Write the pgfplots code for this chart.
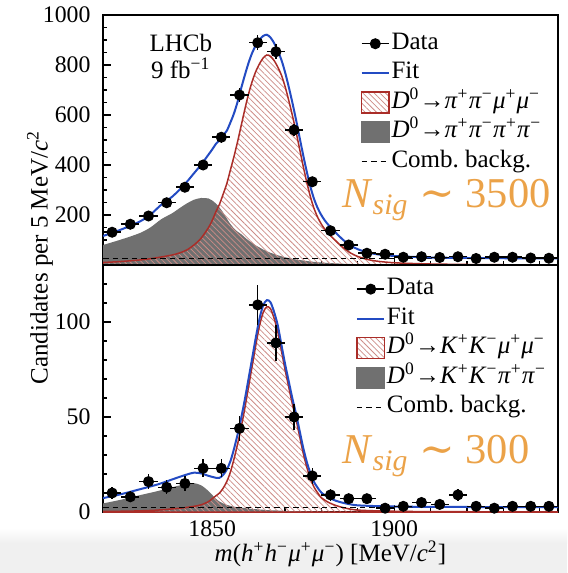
\documentclass[border=0pt]{standalone}
\usepackage{fontspec}
\setmainfont{Liberation Serif}
\newfontfamily\dejavu{DejaVu Serif}
\usepackage{pgfplots}
\usepackage{pgfplotstable}
\pgfplotsset{compat=1.18}
\usetikzlibrary{patterns.meta}

\definecolor{fitblue}{RGB}{35,75,195}
\definecolor{sigred}{RGB}{170,45,40}
\definecolor{hatchc}{RGB}{205,140,135}
\definecolor{greyc}{RGB}{112,112,112}
\definecolor{nsig}{RGB}{235,162,72}

\newcommand{\sut}[1]{\textsuperscript{#1}}
\newcommand{\ti}[1]{\textit{#1}}

\pgfplotstableread[row sep=\\]{
x ex y ey \\
1822.5 2.5 131 11.4 \\
1827.5 2.5 163 12.8 \\
1832.5 2.5 196 14.0 \\
1837.5 2.5 249 15.8 \\
1842.5 2.5 311 17.6 \\
1847.5 2.5 400 20.0 \\
1852.5 2.5 511 22.6 \\
1857.5 2.5 680 26.1 \\
1862.5 2.5 889 29.8 \\
1867.5 2.5 853 29.2 \\
1872.5 2.5 540 23.2 \\
1877.5 2.5 333 18.2 \\
1882.5 2.5 137 11.7 \\
1887.5 2.5 80 8.9 \\
1892.5 2.5 47 6.9 \\
1897.5 2.5 43 6.6 \\
1902.5 2.5 31 5.6 \\
1907.5 2.5 33 5.7 \\
1912.5 2.5 30 5.5 \\
1917.5 2.5 33 5.7 \\
1922.5 2.5 26 5.1 \\
1927.5 2.5 31 5.6 \\
1932.5 2.5 31 5.6 \\
1937.5 2.5 28 5.3 \\
1942.5 2.5 27 5.2 \\
}\topdata

\pgfplotstableread[row sep=\\]{
x S G F \\
1820 10 80 116 \\
1825 14 102 142 \\
1830 20 127 173 \\
1833 25 150 201 \\
1836 32 183 241 \\
1839 40 207 273 \\
1841 48 227 301 \\
1843 60 246 332 \\
1845 80 261 367 \\
1847 108 268 402 \\
1849 150 266 442 \\
1850 178 258 462 \\
1851 212 246 484 \\
1852 243 230 499 \\
1853 283 210 519 \\
1854 325 186 537 \\
1855 380 164 570 \\
1856 435 146 607 \\
1857 495 133 654 \\
1858 560 123 709 \\
1859 625 110 761 \\
1860 685 98 809 \\
1861 735 88 849 \\
1862 775 78 879 \\
1863 805 70 901 \\
1864 828 62 916 \\
1865 840 55 921 \\
1866 835 49 910 \\
1867 818 44 888 \\
1868 792 39 857 \\
1869 760 35 821 \\
1870 715 31 772 \\
1871 660 28 714 \\
1872 600 25 651 \\
1873 535 22 583 \\
1874 465 20 511 \\
1875 395 18 439 \\
1876 330 16 372 \\
1877 272 14 312 \\
1878 225 12.5 263.5 \\
1879 190 11 227 \\
1880 163 10 199 \\
1881 142 9 177 \\
1882 125 8 159 \\
1883 110 7.2 143.2 \\
1884 96 6.5 128.5 \\
1885 82 5.8 113.8 \\
1886 69 5 100 \\
1887 58 4.5 88.5 \\
1888 48 4 78 \\
1890 34 3 63 \\
1893 21 2 49 \\
1896 14 1.5 41.5 \\
1900 9 1 36 \\
1905 6 0.5 32.5 \\
1910 4 0 30 \\
1920 2 0 28 \\
1930 1 0 27 \\
1945 0 0 26 \\
}\topfit

\pgfplotstableread[row sep=\\]{
x ex y ey \\
1822.5 2.5 10 3.2 \\
1827.5 2.5 8 2.8 \\
1832.5 2.5 16 4.0 \\
1837.5 2.5 13 3.6 \\
1842.5 2.5 15 3.9 \\
1847.5 2.5 23 4.8 \\
1852.5 2.5 23 4.8 \\
1857.5 2.5 44 6.6 \\
1862.5 2.5 109 10.4 \\
1867.5 2.5 89 9.4 \\
1872.5 2.5 50 7.1 \\
1877.5 2.5 19 4.4 \\
1882.5 2.5 9 3.0 \\
1887.5 2.5 7 2.6 \\
1892.5 2.5 7 2.6 \\
1897.5 2.5 2 1.4 \\
1902.5 2.5 3 1.7 \\
1907.5 2.5 5 2.2 \\
1912.5 2.5 4 2.0 \\
1917.5 2.5 9 3.0 \\
1922.5 2.5 3 1.7 \\
1927.5 2.5 2 1.4 \\
1932.5 2.5 3 1.7 \\
1937.5 2.5 3 1.7 \\
1942.5 2.5 3 1.7 \\
}\botdata

\pgfplotstableread[row sep=\\]{
x S G F \\
1820 0.3 4.5 7.3 \\
1825 0.4 6.5 9.4 \\
1830 0.6 8.8 11.9 \\
1835 1.0 11 14.5 \\
1840 1.8 13.5 17.8 \\
1843 2.4 14.8 19.7 \\
1845 3.0 15.2 20.7 \\
1847 3.8 14 20.3 \\
1849 5.5 11 19 \\
1850 7 9 18.5 \\
1851 8.5 7 18 \\
1852 10 5.5 18 \\
1853 12.5 4.5 19.5 \\
1854 16 3.8 22.3 \\
1855 21 3.2 26.7 \\
1856 28 2.8 33.3 \\
1857 36 2.5 41 \\
1858 45 2.3 49.8 \\
1859 55 2.1 59.6 \\
1860 66 1.8 70.3 \\
1861 77 1.6 81.1 \\
1862 88 1.5 92 \\
1863 98 1.3 101.8 \\
1864 105 1.2 108.7 \\
1865 108 1 111.5 \\
1866 107 0.9 110.4 \\
1867 102 0.8 105.3 \\
1868 95 0.8 98.3 \\
1869 85 0.7 88.2 \\
1870 75 0.6 78.1 \\
1871 66 0.5 69 \\
1872 57 0.5 60 \\
1873 49 0.4 51.9 \\
1874 40 0.4 42.9 \\
1875 31 0.3 33.8 \\
1876 23.5 0.3 26.3 \\
1877 17.5 0.3 20.3 \\
1878 13 0.2 15.7 \\
1879 10 0.2 12.7 \\
1880 7.5 0.2 10.2 \\
1882 5 0.1 7.6 \\
1884 3.4 0 5.9 \\
1886 2.3 0 4.8 \\
1888 1.5 0 4 \\
1890 1 0 3.5 \\
1895 0.6 0 3.1 \\
1900 0.4 0 2.9 \\
1910 0.2 0 2.7 \\
1945 0 0 2.5 \\
}\botfit

\pgfplotsset{
  lhcb/.style={
    scale only axis, width=182pt,
    xmin=1820, xmax=1945,
    xtick={1850,1900}, minor xtick={1820,1830,...,1940},
    tick align=inside, xtick pos=left, ytick pos=left,
    major tick length=3pt, minor tick length=1.6pt,
    tick style={black, line width=0.5pt},
    axis line style={line width=0.6pt},
    /pgf/number format/assume math mode=true,
    /pgf/number format/1000 sep={},
    ticklabel style={font=\fontsize{9.5}{11}\selectfont},
    yticklabel style={xshift=-1.5pt},
    legend cell align=left,
    legend style={draw=none, fill=none, inner sep=0pt, outer sep=0pt,
      font=\fontsize{10}{12}\selectfont,
      nodes={inner sep=0.6pt, text height=7.6pt, text depth=3pt}},
  },
  dataimg/.style={legend image code/.code={\draw[black,line width=0.6pt] (0pt,0pt) -- (11pt,0pt); \fill[black] (5.5pt,0pt) circle (2pt);}},
  fitimg/.style={legend image code/.code={\draw[fitblue,line width=0.8pt] (0pt,0pt) -- (11pt,0pt);}},
  sigimg/.style={legend image code/.code={\draw[sigred,line width=0.6pt,pattern={Lines[angle=-45,distance=1.6pt,line width=0.3pt]},pattern color=hatchc] (0pt,-4.2pt) rectangle (11pt,4.2pt);}},
  misimg/.style={legend image code/.code={\fill[greyc] (0pt,-4.2pt) rectangle (11pt,4.2pt);}},
  combimg/.style={legend image code/.code={\draw[black,line width=0.5pt,dash pattern=on 2.2pt off 1.6pt] (0pt,0pt) -- (11pt,0pt);}},
}

\begin{document}
\begin{tikzpicture}
\useasboundingbox (-41.2pt,-123.2pt) rectangle (185.6pt,106pt);
\fill[black!6] (-41.2pt,-123.2pt) rectangle (185.6pt,-111.5pt);
\shade[top color=white, bottom color=black!6] (-41.2pt,-111.5pt) rectangle (185.6pt,-105pt);

% ---------------- top panel ----------------
\begin{axis}[lhcb, at={(0pt,0pt)}, anchor=south west, height=100pt,
  ymin=0, ymax=1000, ytick={200,400,600,800,1000},
  minor ytick={50,100,...,950}, xticklabels={},
  legend style={at={(0.566,0.944)}, anchor=north west}]
\addlegendimage{dataimg}\addlegendentry{Data}
\addlegendimage{fitimg}\addlegendentry{Fit}
\addlegendimage{sigimg}\addlegendentry{\ti{D}\sut{0}→\ti{π}\sut{+}\ti{π}\sut{−}\ti{μ}\sut{+}\ti{μ}\sut{−}}
\addlegendimage{misimg}\addlegendentry{\ti{D}\sut{0}→\ti{π}\sut{+}\ti{π}\sut{−}\ti{π}\sut{+}\ti{π}\sut{−}}
\addlegendimage{combimg}\addlegendentry{Comb.\ backg.}
\addplot[forget plot, fill=greyc, draw=none, smooth] table[x=x,y=G] {\topfit} \closedcycle;
\addplot[forget plot, draw=sigred, line width=0.6pt, smooth,
  pattern={Lines[angle=-45,distance=1.6pt,line width=0.3pt]}, pattern color=hatchc]
  table[x=x,y=S] {\topfit} \closedcycle;
\addplot[forget plot, black, line width=0.5pt, dash pattern=on 2.2pt off 1.6pt] coordinates {(1820,26) (1945,26)};
\addplot[forget plot, fitblue, line width=0.8pt, smooth] table[x=x,y=F] {\topfit};
\addplot[forget plot, black, only marks, mark=*, mark size=2pt,
  error bars/.cd, x dir=both, x explicit, y dir=both, y explicit,
  error mark=none, error bar style={line width=0.6pt, black}]
  table[x=x, y=y, x error=ex, y error=ey] {\topdata};
\node[align=center, font=\fontsize{10}{10.8}\selectfont] at (axis description cs:0.171,0.834) {LHCb\\9 fb\sut{−1}};
\node[anchor=base west, text=nsig, font=\fontsize{17}{20}\selectfont, inner sep=0pt] at (axis description cs:0.525,0.228) {\ti{N}\textsubscript{\ti{sig}} {\dejavu ∼} 3500};
\end{axis}

% ---------------- bottom panel ----------------
\begin{axis}[lhcb, at={(0pt,0pt)}, anchor=north west, height=98.8pt,
  ymin=0, ymax=130, ytick={0,50,100},
  minor ytick={10,20,30,40,60,70,80,90,110,120},
  legend style={at={(0.556,0.962)}, anchor=north west}]
\addlegendimage{dataimg}\addlegendentry{Data}
\addlegendimage{fitimg}\addlegendentry{Fit}
\addlegendimage{sigimg}\addlegendentry{\ti{D}\sut{0}→\ti{K}\sut{+}\ti{K}\sut{−}\ti{μ}\sut{+}\ti{μ}\sut{−}}
\addlegendimage{misimg}\addlegendentry{\ti{D}\sut{0}→\ti{K}\sut{+}\ti{K}\sut{−}\ti{π}\sut{+}\ti{π}\sut{−}}
\addlegendimage{combimg}\addlegendentry{Comb.\ backg.}
\addplot[forget plot, fill=greyc, draw=none, smooth] table[x=x,y=G] {\botfit} \closedcycle;
\addplot[forget plot, draw=sigred, line width=0.6pt, smooth,
  pattern={Lines[angle=-45,distance=1.6pt,line width=0.3pt]}, pattern color=hatchc]
  table[x=x,y=S] {\botfit} \closedcycle;
\addplot[forget plot, black, line width=0.5pt, dash pattern=on 2.2pt off 1.6pt] coordinates {(1820,2.5) (1945,2.5)};
\addplot[forget plot, fitblue, line width=0.8pt, smooth] table[x=x,y=F] {\botfit};
\addplot[forget plot, black, only marks, mark=*, mark size=2pt,
  error bars/.cd, x dir=both, x explicit, y dir=both, y explicit,
  error mark=none, error bar style={line width=0.6pt, black}]
  table[x=x, y=y, x error=ex, y error=ey] {\botdata};
\node[anchor=base west, text=nsig, font=\fontsize{17}{20}\selectfont, inner sep=0pt] at (axis description cs:0.525,0.196) {\ti{N}\textsubscript{\ti{sig}} {\dejavu ∼} 300};
\end{axis}

\node[rotate=90, font=\fontsize{10}{12}\selectfont] at (-25.2pt,3pt) {Candidates per 5 MeV/\ti{c}\sut{2}};
\node[font=\fontsize{10}{12}\selectfont] at (91pt,-115.6pt) {\ti{m}(\ti{h}\sut{+}\ti{h}\sut{−}\ti{μ}\sut{+}\ti{μ}\sut{−}) [MeV/\ti{c}\sut{2}]};
\end{tikzpicture}
\end{document}
